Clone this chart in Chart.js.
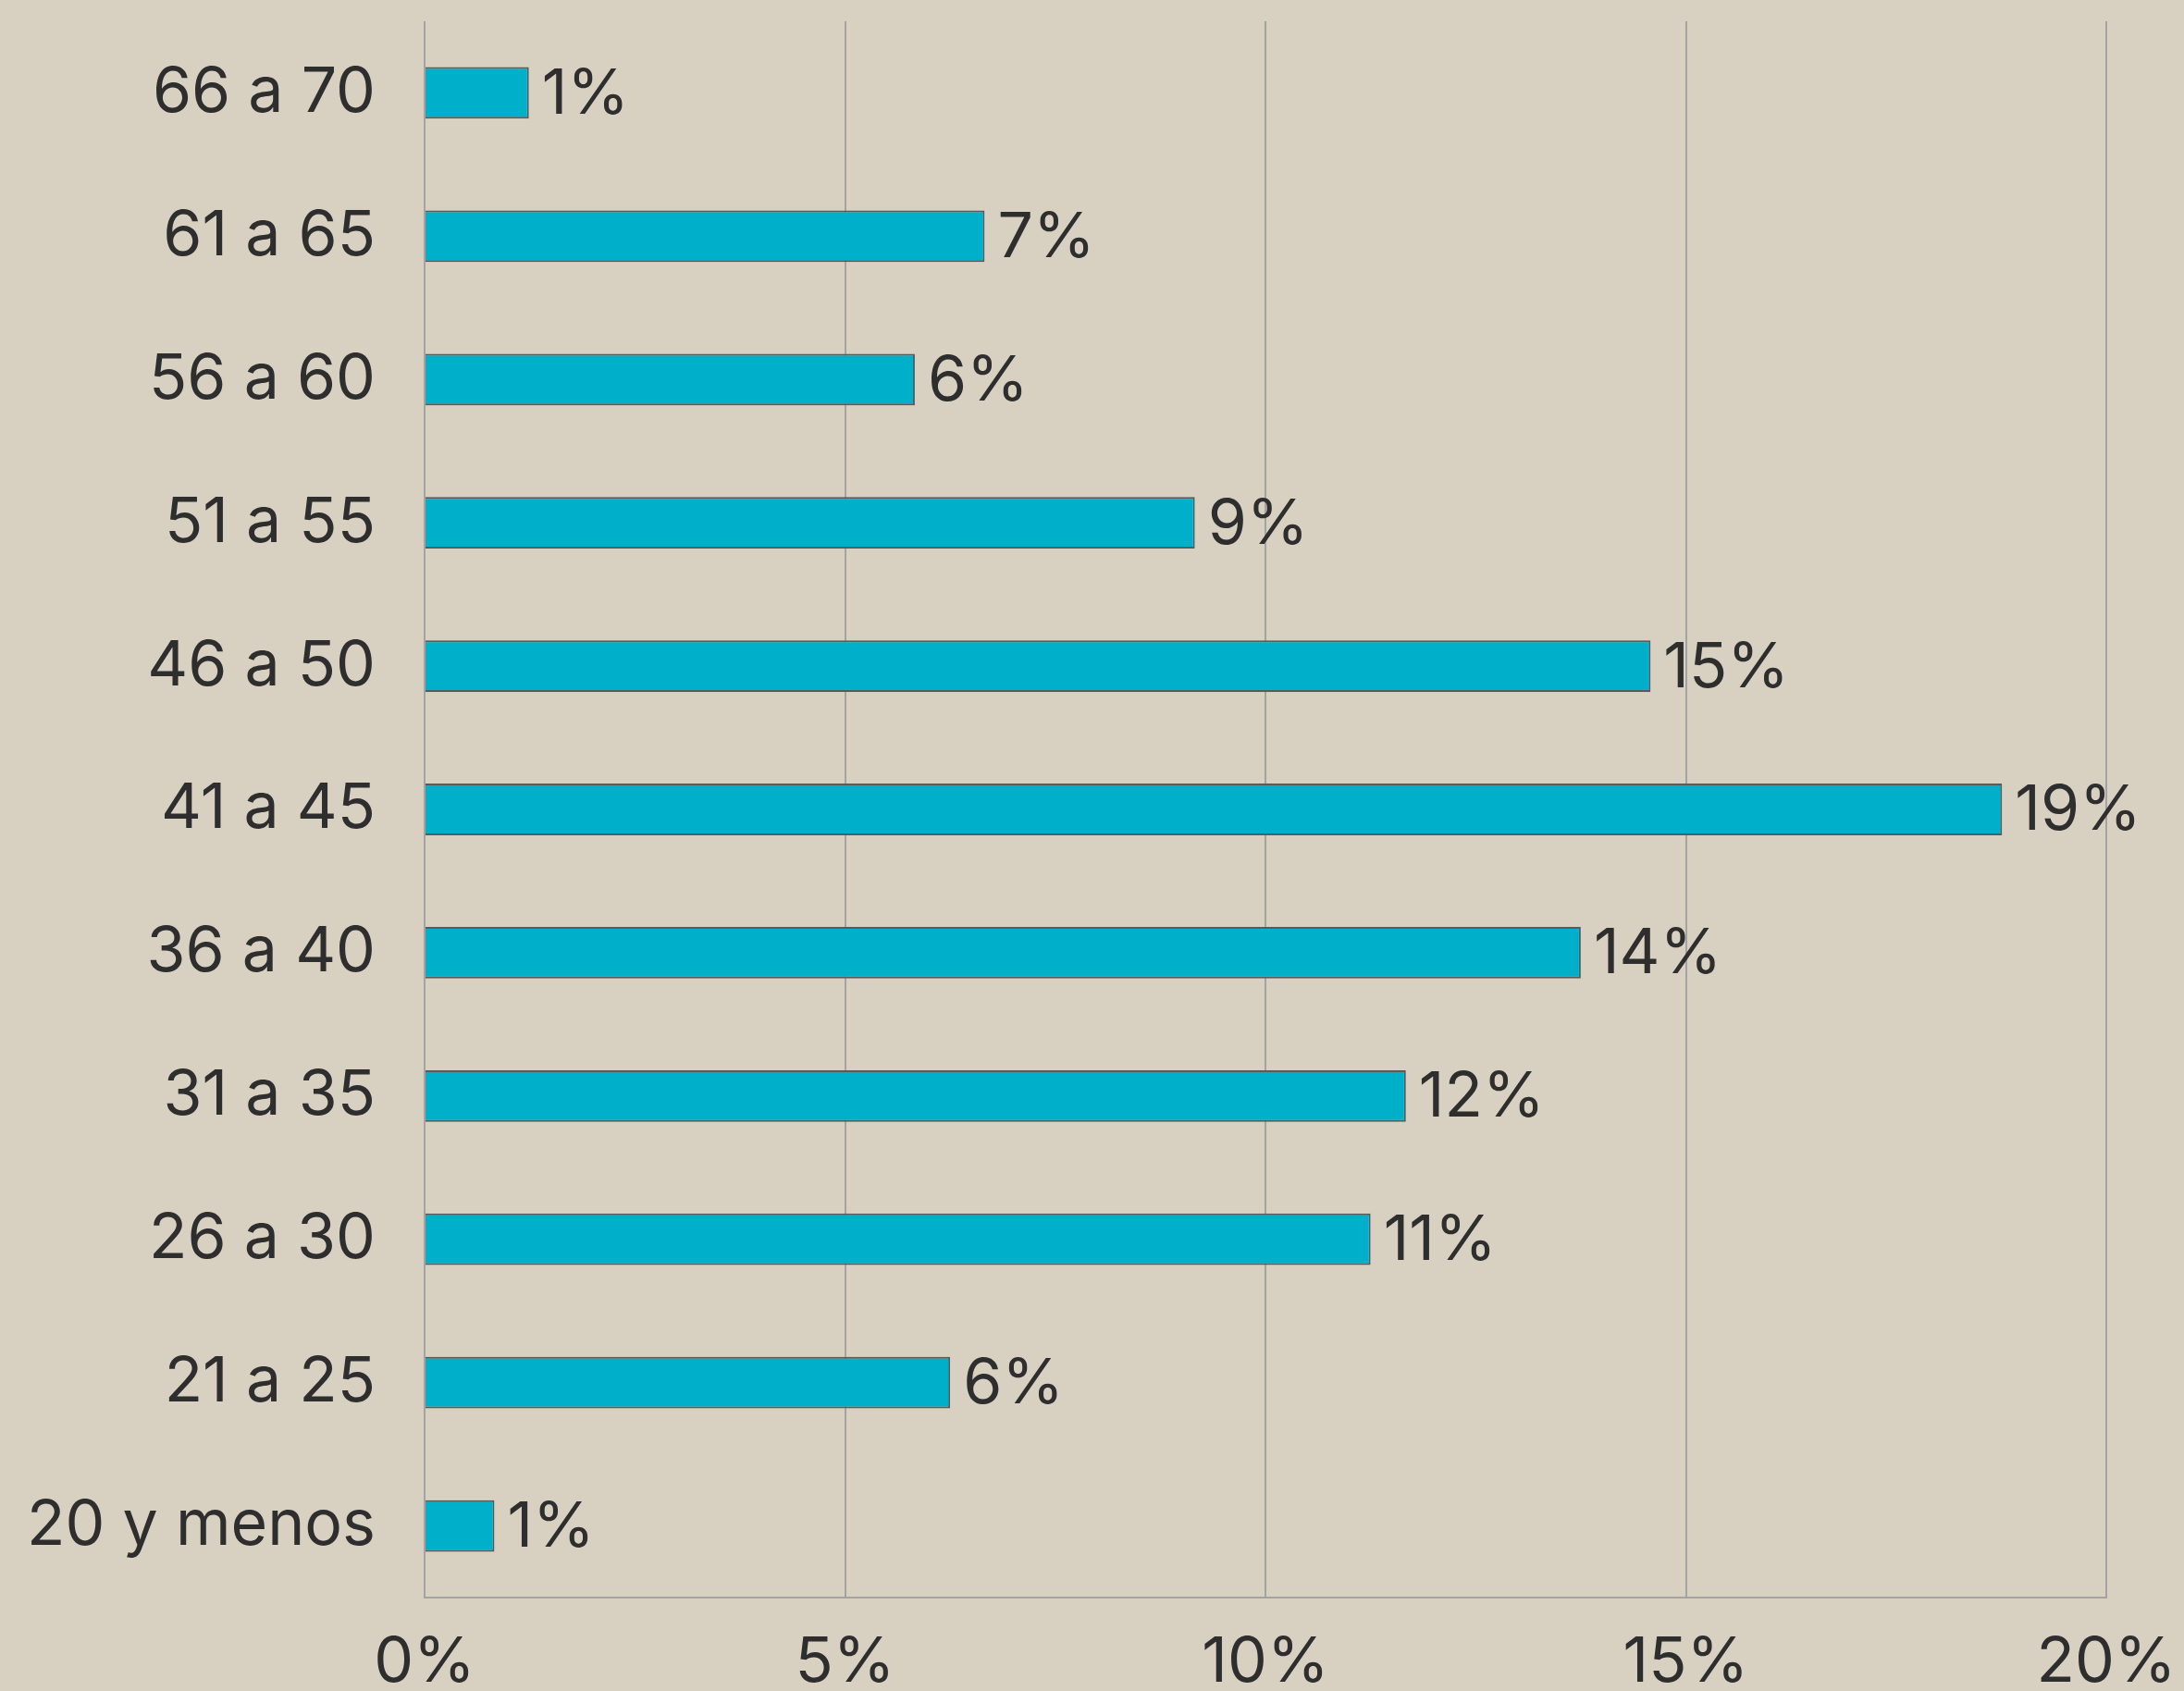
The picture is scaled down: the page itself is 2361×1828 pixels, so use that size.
<!DOCTYPE html>
<html>
<head>
<meta charset="utf-8">
<script src="https://cdn.jsdelivr.net/npm/chart.js@4"></script>
<style>
  body { margin: 0; background: #d8d0c1; }
  #wrap { width: 2361px; height: 1828px; }
</style>
</head>
<body>
<div id="wrap"><canvas id="edadChart"></canvas></div>
<script>
// age groups, bottom to top as in the picture
const ageGroups = ["20 y menos", "21 a 25", "26 a 30", "31 a 35", "36 a 40", "41 a 45",
                   "46 a 50", "51 a 55", "56 a 60", "61 a 65", "66 a 70"];
// share of people in each group (%)
const shareValues = [0.83, 6.25, 11.25, 11.67, 13.75, 18.76, 14.58, 9.16, 5.83, 6.66, 1.24];
const xTicks = [0, 5, 10, 15, 20];

const textColor = "#2e2e2e";
const fontFamily = "Inter, 'Liberation Sans', sans-serif";

// draws the "x%" next to each bar
const barLabels = {
    id: "barLabels",
    afterDatasetsDraw(chart) {
        const ctx = chart.ctx;
        const meta = chart.getDatasetMeta(0);
        ctx.save();
        ctx.font = "68px " + fontFamily;
        ctx.fillStyle = textColor;
        ctx.textAlign = "left";
        ctx.textBaseline = "middle";
        meta.data.forEach((bar, i) => {
            ctx.fillText(Math.round(shareValues[i]) + "%", bar.x + 14, bar.y + 2);
        });
        ctx.restore();
    }
};

new Chart("edadChart", {
    type: "bar",
    data: {
        labels: ageGroups,
        datasets: [
            {
                data: shareValues,
                backgroundColor: "#00afc9",
                borderColor: "#5a5a5a",
                borderWidth: 2,
                borderSkipped: "left",
                categoryPercentage: 1,
                barPercentage: 0.36,
            },
        ],
    },
    options: {
        indexAxis: "y",
        responsive: true,
        maintainAspectRatio: false,
        animation: false,
        layout: { padding: { top: 23, right: 84 } },
        plugins: { legend: { display: false }, tooltip: { enabled: false } },
        scales: {
            x: {
                min: 0,
                max: 20,
                afterBuildTicks: (axis) => { axis.ticks = xTicks.map(v => ({ value: v })); },
                afterFit: (axis) => {
                    axis.height = 101;
                    axis.paddingLeft = 0;
                    axis.paddingRight = 0;
                },
                grid: { color: "#a3a3a3", lineWidth: 2, drawTicks: false },
                border: { color: "#a3a3a3", width: 2 },
                ticks: {
                    color: textColor,
                    font: { family: fontFamily, size: 68 },
                    padding: 30,
                    maxRotation: 0,
                    callback: (v) => v + "%",
                },
            },
            y: {
                reverse: true,
                afterFit: (axis) => {
                    axis.width = 459;
                    axis.paddingTop = 0;
                    axis.paddingBottom = 0;
                },
                grid: { display: false, drawTicks: false },
                border: { display: false },
                ticks: {
                    color: textColor,
                    font: { family: fontFamily, size: 68 },
                    padding: 53,
                },
            },
        },
    },
    plugins: [barLabels],
});
</script>
</body>
</html>
